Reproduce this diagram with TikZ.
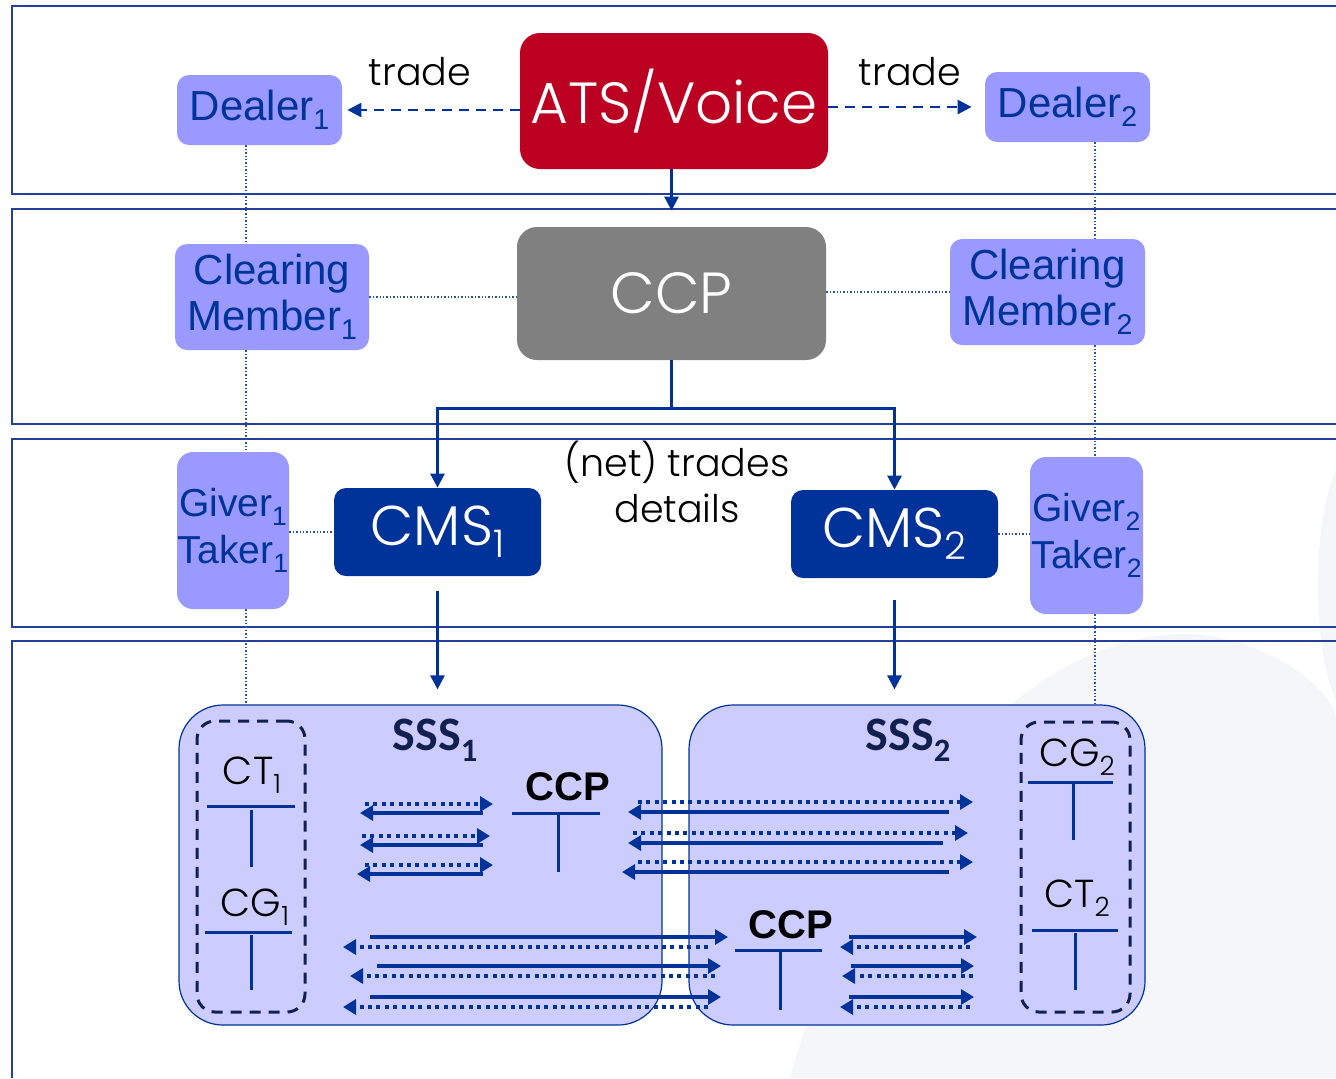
\documentclass[tikz,border=0pt]{standalone}
\usepackage{fontspec}
\usepackage{graphicx}
\setmainfont{Poppins Light}
\newfontfamily\arialf{Liberation Sans}
\newfontfamily\calf{Carlito}
\usetikzlibrary{arrows.meta}
\definecolor{bandc}{RGB}{35,65,155}
\definecolor{arrc}{RGB}{0,51,153}
\definecolor{lpurp}{RGB}{153,153,255}
\definecolor{sssf}{RGB}{204,204,255}
\definecolor{redc}{RGB}{187,0,34}
\definecolor{grayc}{RGB}{128,128,128}
\definecolor{navyc}{RGB}{18,32,80}
\definecolor{wmc}{RGB}{245,246,249}
\newcommand{\lo}[1]{\raisebox{-0.22em}{\scalebox{0.68}{#1}}}
\begin{document}
\begin{tikzpicture}[x=0.5pt,y=-0.5pt,
  band/.style={draw=bandc,line width=1pt},
  lbox/.style={fill=lpurp,rounded corners=6pt,inner sep=0pt,align=center,text=arrc,font=\arialf\fontsize{21}{23}\selectfont},
  bigbox/.style={rounded corners=10pt,inner sep=0pt,align=center,text=white,font=\fontsize{29}{32}\selectfont},
  cmsbox/.style={fill=arrc,rounded corners=6pt,inner sep=0pt,text=white,font=\fontsize{28}{30}\selectfont},
  sssbox/.style={fill=sssf,draw=arrc,line width=0.6pt,rounded corners=22pt,inner sep=0pt},
  dbox/.style={draw=navyc,line width=1.5pt,dash pattern=on 5.5pt off 4pt,rounded corners=9pt,inner sep=0pt},
  lbl/.style={inner sep=0pt,align=center,font=\fontsize{19}{23}\selectfont},
  tlbl/.style={inner sep=0pt,font=\fontsize{19.5}{21}\selectfont},
  blbl/.style={inner sep=0pt,font=\arialf\bfseries\fontsize{20}{22}\selectfont},
  slbl/.style={inner sep=0pt,text=navyc,font=\calf\bfseries\fontsize{24}{26}\selectfont},
  conn/.style={draw=arrc,line width=1.4pt},
  tip/.style={-{Triangle[length=7pt,width=7pt]}},
  dots/.style={draw=arrc!85,line width=0.6pt,dash pattern=on 0.7pt off 1pt},
  trd/.style={draw=arrc,line width=1.3pt,dash pattern=on 5pt off 3.5pt,-{Triangle[length=7pt,width=7pt]}},
  solidarr/.style={draw=arrc,line width=1.6pt,-{Triangle[length=6.5pt,width=7.5pt]}},
  dotarr/.style={draw=arrc,line width=2pt,dash pattern=on 2pt off 2.2pt,-{Triangle[length=6.5pt,width=7.5pt]}},
  tbar/.style={draw=arrc,line width=1.5pt}
]
\useasboundingbox (0,0) rectangle (1336,1078);
% faint watermark
\fill[wmc] (790,1078) .. controls (880,760) and (1080,600) .. (1230,640) .. controls (1300,660) and (1336,700) .. (1336,720) -- (1336,1078) -- cycle;
\fill[wmc] (1336,470) .. controls (1312,520) and (1312,650) .. (1336,700) -- cycle;
% bands
\draw[band] (1336,6) -| (12,194) -- (1336,194);
\draw[band] (1336,209) -| (12,424) -- (1336,424);
\draw[band] (1336,439) -| (12,627) -- (1336,627);
\draw[band] (1336,641) -| (12,1078);
% top row
\node[lbox,minimum width=82.5pt,minimum height=35pt] (dealerA) at (259.5,110) {Dealer\lo{1}};
\node[bigbox,fill=redc,minimum width=154pt,minimum height=68pt] (ats) at (674,101) {ATS/Voice};
\node[lbox,minimum width=82.5pt,minimum height=35pt] (dealerB) at (1067.5,107) {Dealer\lo{2}};
\node[lbl] (tradeA) at (420,72) {trade};
\node[lbl] (tradeB) at (910,72) {trade};
% second row
\node[bigbox,fill=grayc,minimum width=154.5pt,minimum height=66.5pt] (ccp) at (671.5,293.5) {CCP};
\node[lbox,minimum width=97pt,minimum height=53pt] (cmA) at (272,297) {Clearing\\Member\lo{1}};
\node[lbox,minimum width=97.5pt,minimum height=53pt] (cmB) at (1047.5,292) {Clearing\\Member\lo{2}};
% third row
\node[cmsbox,minimum width=103.5pt,minimum height=44pt] (cmsA) at (437.5,532) {CMS\lo{1}};
\node[cmsbox,minimum width=103.5pt,minimum height=44pt] (cmsB) at (894.5,534) {CMS\lo{2}};
\node[lbox,rounded corners=8pt,font=\arialf\fontsize{19.5}{23.5}\selectfont,minimum width=56pt,minimum height=78.5pt] (gtA) at (233,530.5) {Giver\lo{1}\\Taker\lo{1}};
\node[lbox,rounded corners=8pt,font=\arialf\fontsize{19.5}{23.5}\selectfont,minimum width=56.5pt,minimum height=78.5pt] (gtB) at (1086.5,535.5) {Giver\lo{2}\\Taker\lo{2}};
\node[lbl] (net) at (677,482) {(net) trades\\details};
% SSS boxes
\node[sssbox,minimum width=241.5pt,minimum height=160pt] (sssA) at (420.5,865) {};
\node[sssbox,minimum width=228pt,minimum height=160pt] (sssB) at (917,865) {};
\node[dbox,minimum width=54pt,minimum height=145.5pt] (dA) at (251,866.5) {};
\node[dbox,minimum width=54.5pt,minimum height=145pt] (dB) at (1075.5,867) {};
\node[slbl] (sA) at (435,740) {SSS\lo{1}};
\node[slbl] (sB) at (908,740) {SSS\lo{2}};
% CT / CG labels and T bars
\node[tlbl] (ct1) at (252,775) {CT\lo{1}};
\draw[tbar] (207,806) -- (295,806); \draw[tbar] (251,810) -- (251,867);
\node[tlbl] (cg1) at (255,907) {CG\lo{1}};
\draw[tbar] (205,932) -- (292,932); \draw[tbar] (251,935) -- (251,990);
\node[tlbl] (cg2) at (1077,757) {CG\lo{2}};
\draw[tbar] (1028,782) -- (1113,782); \draw[tbar] (1073,782) -- (1073,840);
\node[tlbl] (ct2) at (1077,898) {CT\lo{2}};
\draw[tbar] (1032,930) -- (1118,930); \draw[tbar] (1075,933) -- (1075,990);
\node[blbl] (ccpA) at (568,787) {CCP};
\draw[tbar] (512,813) -- (600,813); \draw[tbar] (558,813) -- (558,872);
\node[blbl] (ccpB) at (791,925) {CCP};
\draw[tbar] (735,950) -- (822,950); \draw[tbar] (780,950) -- (780,1010);
% connectors
\draw[trd] (ats.west |- dealerA.east) -- ([xshift=2.5pt]dealerA.east);
\draw[trd] (ats.east |- dealerB.west) -- ([xshift=-6.5pt]dealerB.west);
\draw[conn,tip,shorten >=8pt] (ccp.north |- ats.south) -- (ccp.north);
\draw[conn] (ccp.south) -- ++(0,48) coordinate (jn);
\draw[conn,tip] (jn) -| (cmsA.north);
\draw[conn,tip] (jn) -| (cmsB.north);
\draw[conn,tip] ([yshift=-7.5pt]cmsA.south) -- ([yshift=7.5pt]cmsA.south |- sssA.north);
\draw[conn,tip] ([yshift=-11pt]cmsB.south) -- ([yshift=7.5pt]cmsB.south |- sssB.north);
\draw[dots] (cmA.east) -- (ccp.west |- cmA.east);
\draw[dots] (ccp.east |- cmB.west) -- (cmB.west);
\draw[dots] (gtA.east |- cmsA.west) -- (cmsA.west);
\draw[dots] (cmsB.east) -- (gtB.west |- cmsB.east);
\draw[dots] (246,0 |- dealerA.south) -- (246,0 |- cmA.north);
\draw[dots] (246,0 |- cmA.south) -- (246,0 |- gtA.north);
\draw[dots] (246,0 |- gtA.south) -- (246,0 |- sssA.north);
\draw[dots] (1095,0 |- dealerB.south) -- (1095,0 |- cmB.north);
\draw[dots] (1095,0 |- cmB.south) -- (1095,0 |- gtB.north);
\draw[dots] (1095,0 |- gtB.south) -- (1095,0 |- sssB.north);
% group A
\draw[dotarr] (365,804) -- (493,804); \draw[solidarr] (483,813) -- (360,813);
\draw[dotarr] (362,836) -- (490,836); \draw[solidarr] (483,845) -- (360,845);
\draw[dotarr] (365,865) -- (493,865); \draw[solidarr] (483,874) -- (357,874);
% group B
\draw[dotarr] (638,802) -- (973,802); \draw[solidarr] (949,812) -- (628,812);
\draw[dotarr] (633,833) -- (968,833); \draw[solidarr] (943,843) -- (628,843);
\draw[dotarr] (638,862) -- (973,862); \draw[solidarr] (949,872) -- (622,872);
% group C
\draw[solidarr] (370,937) -- (728,937); \draw[dotarr] (708,947) -- (343,947);
\draw[solidarr] (377,966) -- (721,966); \draw[dotarr] (715,976) -- (350,976);
\draw[solidarr] (370,997) -- (721,997); \draw[dotarr] (708,1007) -- (343,1007);
% group D
\draw[solidarr] (849,937) -- (977,937); \draw[dotarr] (970,947) -- (840,947);
\draw[solidarr] (851,966) -- (974,966); \draw[dotarr] (973,976) -- (842,976);
\draw[solidarr] (849,997) -- (974,997); \draw[dotarr] (970,1007) -- (840,1007);
\end{tikzpicture}
\end{document}
